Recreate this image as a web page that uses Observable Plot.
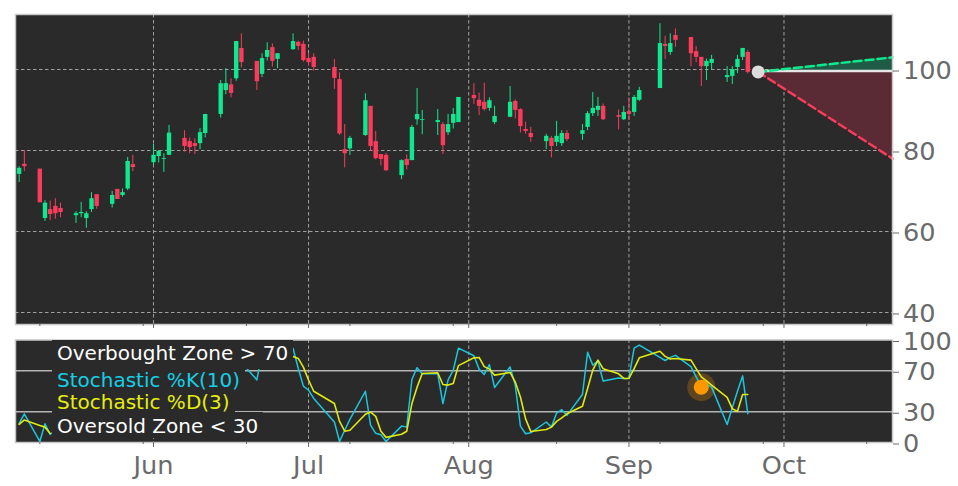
<!DOCTYPE html>
<html><head><meta charset="utf-8">
<script src="https://cdn.jsdelivr.net/npm/d3@7"></script>
<script src="https://cdn.jsdelivr.net/npm/@observablehq/plot@0.6"></script>
<style>
html,body{margin:0;padding:0;background:#fff;width:958px;height:486px;overflow:hidden}
#c{position:relative;width:958px;height:486px;font-family:"DejaVu Sans",sans-serif}
#topPanel,#botPanel{position:absolute;left:0}
#topPanel{top:0}#botPanel{top:330px}
.lg{position:absolute;background:#2a2a2a;font-size:20px;white-space:pre;padding:0 5px}
</style></head><body><div id="c"><div id="topPanel"></div><div id="botPanel"></div></div>
<script>
const dates=["05-06","05-07","05-10","05-11","05-12","05-13","05-14","05-17","05-18","05-19","05-20","05-21","05-24","05-25","05-26","05-27","05-28","06-01","06-02","06-03","06-04","06-07","06-08","06-09","06-10","06-11","06-14","06-15","06-16","06-17","06-18","06-21","06-22","06-23","06-24","06-25","06-28","06-29","06-30","07-01","07-02","07-06","07-07","07-08","07-09","07-12","07-13","07-14","07-15","07-16","07-19","07-20","07-21","07-22","07-23","07-26","07-27","07-28","07-29","07-30","08-02","08-03","08-04","08-05","08-06","08-09","08-10","08-11","08-12","08-13","08-16","08-17","08-18","08-19","08-20","08-23","08-24","08-25","08-26","08-27","08-30","08-31","09-01","09-02","09-03","09-07","09-08","09-09","09-10","09-13","09-14","09-15","09-16","09-17","09-20","09-21","09-22","09-23","09-24"];
const priceOpen=[74.1,76.6,75.4,63.2,65.4,66.2,65.7,63.9,64.4,63.2,65.4,69.1,66.7,70.4,68.9,70.5,76.5,77.0,78.5,77.8,78.8,83.0,82.2,81.7,81.7,84.2,88.9,94.8,96.2,97.7,105.2,102.0,98.8,103.0,105.4,102.5,104.9,106.7,106.2,102.7,103.0,100.5,97.5,80.2,80.4,83.7,90.9,82.2,79.0,78.8,73.8,77.8,77.5,87.6,87.4,86.9,86.4,84.4,86.7,86.9,93.6,92.4,91.9,90.4,86.9,88.2,92.1,90.1,85.2,84.2,82.2,83.0,82.0,81.7,84.2,84.0,85.7,89.1,89.9,90.9,88.6,87.6,89.6,89.4,92.4,95.3,106.2,104.2,108.4,107.9,104.4,103.0,100.7,101.5,98.0,98.3,100.5,103.0,104.2];
const priceHigh=[76.0,80.0,75.4,67.6,67.5,68.1,67.0,64.9,67.2,64.9,69.6,69.1,69.9,70.4,70.5,78.3,78.8,81.5,80.0,79.2,86.2,84.9,83.1,82.9,85.4,88.9,97.3,100.2,97.7,106.9,108.8,102.0,103.9,106.6,106.3,103.9,108.8,107.0,107.0,103.9,103.9,102.5,99.2,86.4,83.5,94.0,90.9,84.7,79.0,79.3,77.7,78.9,86.2,95.3,89.9,90.1,86.9,88.9,90.4,93.1,96.5,94.2,96.6,93.0,90.9,95.8,92.5,90.3,87.0,85.7,84.0,83.5,87.2,84.9,84.9,86.4,89.6,94.3,93.1,91.5,90.0,90.9,93.0,93.6,95.6,111.3,108.2,108.8,110.0,107.9,105.7,103.0,102.6,103.5,100.7,100.7,103.5,105.2,104.7];
const priceLow=[72.1,74.8,67.1,62.5,62.7,63.0,63.4,62.0,63.4,60.8,64.7,65.5,65.8,67.9,68.5,70.1,74.8,76.3,76.9,74.6,78.8,79.6,79.2,79.0,80.2,83.1,88.0,93.8,93.0,97.1,100.4,94.8,98.0,102.1,100.6,100.2,104.7,104.7,101.8,101.0,99.6,95.1,83.7,75.7,78.8,83.5,79.8,77.7,76.2,74.8,72.8,75.2,77.5,86.2,83.9,83.7,79.0,83.7,85.3,86.9,91.4,88.6,89.7,89.7,86.4,88.2,87.8,84.3,84.0,82.0,80.2,78.2,81.0,81.0,82.2,82.5,84.9,88.4,88.4,87.4,85.1,87.4,87.4,88.4,92.1,95.3,102.5,103.5,105.5,100.7,101.7,95.8,97.3,100.0,96.8,96.3,99.0,102.2,98.9];
const priceClose=[75.6,76.0,67.1,67.0,64.2,64.4,64.7,64.4,64.7,64.4,68.1,66.2,68.9,67.9,69.6,77.3,75.8,78.8,79.8,78.0,84.3,81.0,80.7,81.0,84.4,88.9,96.5,96.5,94.1,106.9,101.7,97.0,102.7,104.7,102.0,103.9,106.9,105.7,102.2,101.7,100.5,97.8,84.1,79.2,83.0,92.3,81.0,78.0,77.8,75.0,77.5,76.3,85.7,88.9,87.6,87.4,81.2,86.4,88.9,93.1,92.8,90.9,90.1,92.3,88.4,91.9,89.9,85.9,84.7,83.2,83.5,81.0,83.5,84.2,82.7,84.9,89.1,90.4,90.9,87.6,88.2,89.4,88.9,93.1,94.8,106.4,105.7,106.4,107.2,103.9,103.0,100.7,102.0,102.5,98.5,100.0,102.5,105.2,99.3];
const stochK=[18.6,28,1,18.3,7.8,12,null,null,null,null,null,null,null,null,null,null,null,null,null,null,null,null,null,null,null,null,null,null,null,null,78,61,88,null,null,null,92,72.5,55,51,43,20,1,12,22.5,50,17,9,7.5,1,16,15,61.5,73,67,67,38,61,70.5,92,84.6,71.6,66.4,76,53.6,73.8,56,16,8.5,9.5,20,15,28.7,32,26.5,46.8,88,75.5,79.4,60,63,62.5,62.7,92,95,83,80,83,85,74,64,54,57,54,17.6,34,50,65,28];
const stochD=[17.6,22,16.7,15,8.8,null,null,null,null,null,null,null,null,null,null,null,null,null,null,null,null,null,null,null,null,null,null,null,null,null,null,null,null,null,null,null,84,82,73.5,61,50,38,20.6,11,12,27.5,29.7,25.5,11,5,8,11,38,54,67.3,68,56.6,56,57.5,75,82.6,83,74,71.6,65.7,68.3,59,44.4,23,10.8,12.7,15,20.6,24,28,35.3,52.6,70.6,80.4,72,67,62.5,62.5,72,82.6,89,84,81.4,82,80.4,72,64,60,56,44,33,30.4,46.8,46.8];
const fcDates=["2021-09-26","2021-10-22"];
const fcUp=[99.4,103.0], fcDown=[99.4,78.0], fcFlat=[99.6,99.6];
const priceTicks=[40,60,80,100], stochTicks=[0,30,70,100];
const monthTicks=["2021-06-01","2021-07-01","2021-08-01","2021-09-01","2021-10-01"].map(d=>new Date(d));
const minorTicks=["2021-05-10","2021-05-30","2021-06-19","2021-07-09","2021-07-29","2021-08-18","2021-09-07","2021-09-27","2021-10-17"].map(d=>new Date(d));
const signalDate="09-15", signalK=54;

const GREEN="#0fe88e",RED="#fa3c5c",BG="#2a2a2a",TICK="#6a6a6a",GRID="#a0a0a0";
const day=s=>new Date("2021-"+s);
const candles=dates.map((d,i)=>({date:day(d),o:priceOpen[i],h:priceHigh[i],l:priceLow[i],c:priceClose[i],up:priceClose[i]>=priceOpen[i]}));
const stochRows=dates.map((d,i)=>({date:day(d),k:stochK[i],d:stochD[i]}));
const fc=fcDates.map((d,i)=>({date:new Date(d),up:fcUp[i],down:fcDown[i],flat:fcFlat[i]}));
const xDomain=[new Date("2021-05-05T07:00Z"),new Date("2021-10-22T00:00Z")];
const colorOf=d=>d.up?GREEN:RED;
const base={width:958,marginLeft:15,marginRight:66,style:{background:"transparent",fontFamily:"'DejaVu Sans',sans-serif",overflow:"visible"}};

const topChart=Plot.plot({...base,height:330,marginTop:14,marginBottom:6,
 x:{type:"utc",domain:xDomain},y:{domain:[37.04,113.58]},
 marks:[
  Plot.frame({fill:BG}),
  Plot.ruleX(monthTicks,{stroke:GRID,strokeWidth:1,strokeDasharray:"3.5,2.5"}),
  Plot.ruleY(priceTicks,{stroke:GRID,strokeWidth:1,strokeDasharray:"3.5,2.5"}),
  Plot.areaY(fc,{x:"date",y1:"flat",y2:"up",fill:"#1f5b47"}),
  Plot.areaY(fc,{x:"date",y1:"flat",y2:"down",fill:"#5a2b35"}),
  Plot.ruleX(candles,{x:"date",y1:"l",y2:"h",stroke:colorOf,strokeWidth:1}),
  Plot.ruleX(candles,{x:"date",y1:"o",y2:"c",stroke:colorOf,strokeWidth:4.4}),
  Plot.line(fc,{x:"date",y:"flat",stroke:"#e6e6e6",strokeWidth:2.5}),
  Plot.line(fc,{x:"date",y:"up",stroke:GREEN,strokeWidth:2.5,strokeDasharray:"8,4"}),
  Plot.line(fc,{x:"date",y:"down",stroke:RED,strokeWidth:2.5,strokeDasharray:"8,4"}),
  Plot.dot(fc.slice(0,1),{x:"date",y:"up",r:6.5,fill:"#dcdcdc"}),
  Plot.frame({stroke:"#c8c8c8",strokeWidth:1.5}),
  Plot.axisY(priceTicks,{anchor:"right",fontSize:25.6,color:TICK,stroke:TICK,tickSize:6,tickPadding:4.5,dy:1.5,label:null}),
  Plot.axisX(monthTicks,{anchor:"bottom",tickSize:4,stroke:TICK,text:()=>"",label:null}),
  Plot.axisX(minorTicks,{anchor:"bottom",tickSize:2,stroke:TICK,text:()=>"",label:null})
 ]});
document.getElementById("topPanel").append(topChart);

const botChart=Plot.plot({...base,height:156,marginTop:9.5,marginBottom:44,
 x:{type:"utc",domain:xDomain},y:{domain:[0,100]},
 marks:[
  Plot.frame({fill:BG}),
  Plot.ruleX(monthTicks,{stroke:GRID,strokeWidth:1,strokeDasharray:"3.5,2.5"}),
  Plot.ruleY([30,70],{stroke:"#b4b4b4",strokeWidth:1.6}),
  Plot.dot([{date:day(signalDate),k:signalK}],{x:"date",y:"k",r:14,fill:"#ff9800",fillOpacity:0.25}),
  Plot.line(stochRows,{x:"date",y:"k",stroke:"#1cc6dc",strokeWidth:1.5}),
  Plot.line(stochRows,{x:"date",y:"d",stroke:"#e0ea10",strokeWidth:1.6}),
  Plot.dot([{date:day(signalDate),k:signalK}],{x:"date",y:"k",r:7.5,fill:"#ff9800"}),
  Plot.frame({stroke:"#c8c8c8",strokeWidth:1.5}),
  Plot.axisY(stochTicks,{anchor:"right",fontSize:25.6,color:TICK,stroke:TICK,tickSize:6,tickPadding:4.5,dy:1.5,label:null}),
  Plot.axisX(minorTicks,{anchor:"bottom",tickSize:2,stroke:TICK,text:()=>"",label:null}),
  Plot.axisX(monthTicks,{anchor:"bottom",tickSize:5,tickPadding:8,fontSize:25.6,color:TICK,stroke:TICK,tickFormat:d3.utcFormat("%b"),label:null})
 ]});
document.getElementById("botPanel").append(botChart);

const legend=[["Oversold Zone < 30","#ffffff",412,26,28],["Overbought Zone > 70","#ffffff",340,29,26],["Stochastic %K(10)","#14cfe6",369,23,23],["Stochastic %D(3)","#e6ee0a",392,20,20]];
const host=document.getElementById("c");
for(const [t,col,y,h,lh] of legend){const e=document.createElement("div");e.className="lg";e.textContent=t;e.style.cssText=`left:52px;top:${y}px;height:${h}px;line-height:${lh}px;color:${col}`;host.append(e);}
</script></body></html>
